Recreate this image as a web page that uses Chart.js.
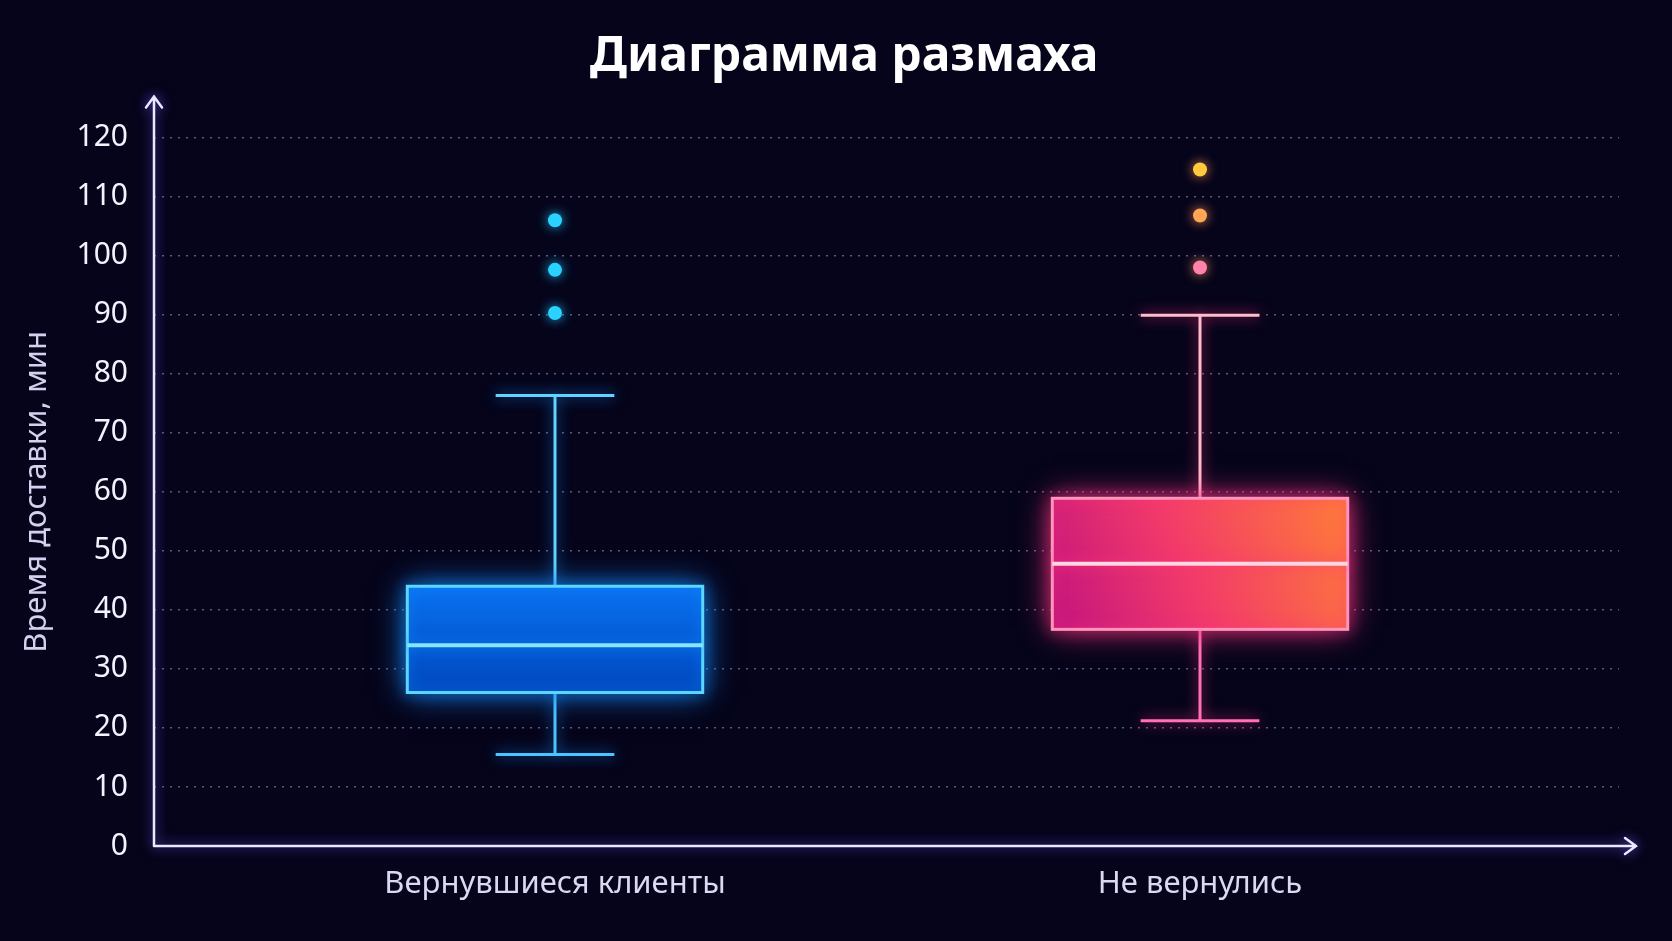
<!DOCTYPE html>
<html lang="ru">
<head>
<meta charset="utf-8">
<title>Диаграмма размаха</title>
<script src="https://cdn.jsdelivr.net/npm/chart.js@4.4.1/dist/chart.umd.min.js"></script>
<style>
  html, body { margin: 0; padding: 0; background: #05041a; }
  #wrap { width: 1672px; height: 941px; position: relative; }
</style>
</head>
<body>
<div id="wrap"><canvas id="boxChart"></canvas></div>
<script>
// data
const groups = ['Вернувшиеся клиенты', 'Не вернулись'];
const whiskerLow = [15.5, 21.2];
const quartile1 = [26.0, 36.7];
const medians = [34.0, 47.8];
const quartile3 = [44.0, 58.9];
const whiskerHigh = [76.3, 89.9];
const outliersReturned = [90.3, 97.6, 106.0];
const outliersLost = [98.0, 106.8, 114.6];
const yTicks = [0, 10, 20, 30, 40, 50, 60, 70, 80, 90, 100, 110, 120];

const BOX_HALF = 0.229;
const CAP_HALF = 0.092;

const boxStyles = [
    {
        glow: 'rgba(20, 140, 255, 0.9)',
        border: '#5ad6ff',
        median: '#86e6ff',
        whiskerTop: '#62d2ff',
        whiskerBottom: '#4cc4ff',
        fill(ctx, l, t, r, b) {
            const g = ctx.createLinearGradient(0, t, 0, b);
            g.addColorStop(0, '#0a72f0');
            g.addColorStop(1, '#0047bd');
            return g;
        }
    },
    {
        glow: 'rgba(255, 50, 130, 0.9)',
        border: '#ff94bc',
        median: '#ffd6e4',
        whiskerTop: '#ffbccb',
        whiskerBottom: '#ff72b8',
        fill(ctx, l, t, r, b) {
            const g = ctx.createLinearGradient(l, b, r, t);
            g.addColorStop(0, '#c2137e');
            g.addColorStop(0.45, '#f23a6a');
            g.addColorStop(1, '#ff7c38');
            return g;
        }
    }
];

const axesPlugin = {
    id: 'axesArrows',
    beforeDatasetsDraw(chart) {
        const { ctx, chartArea: a } = chart;
        ctx.save();
        ctx.strokeStyle = '#ece8ff';
        ctx.lineWidth = 2.5;
        ctx.lineCap = 'round';
        ctx.shadowColor = 'rgba(110, 90, 255, 0.9)';
        ctx.shadowBlur = 12;
        const topTip = a.top - 41;
        const rightTip = a.right + 17;
        ctx.beginPath();
        ctx.moveTo(a.left, a.bottom);
        ctx.lineTo(a.left, topTip);
        ctx.moveTo(a.left - 8, topTip + 11);
        ctx.lineTo(a.left, topTip);
        ctx.lineTo(a.left + 8, topTip + 11);
        ctx.moveTo(a.left, a.bottom);
        ctx.lineTo(rightTip, a.bottom);
        ctx.moveTo(rightTip - 11, a.bottom - 8);
        ctx.lineTo(rightTip, a.bottom);
        ctx.lineTo(rightTip - 11, a.bottom + 8);
        ctx.stroke();
        ctx.restore();
    }
};

const boxPlotPlugin = {
    id: 'boxPlot',
    beforeDatasetsDraw(chart) {
        const { ctx, scales: { x, y } } = chart;
        groups.forEach((name, i) => {
            const st = boxStyles[i];
            const cx = x.getPixelForValue(i);
            const left = x.getPixelForValue(i - BOX_HALF);
            const right = x.getPixelForValue(i + BOX_HALF);
            const capL = x.getPixelForValue(i - CAP_HALF);
            const capR = x.getPixelForValue(i + CAP_HALF);
            const yLo = y.getPixelForValue(whiskerLow[i]);
            const yQ1 = y.getPixelForValue(quartile1[i]);
            const yMed = y.getPixelForValue(medians[i]);
            const yQ3 = y.getPixelForValue(quartile3[i]);
            const yHi = y.getPixelForValue(whiskerHigh[i]);

            ctx.save();
            ctx.shadowColor = st.glow;
            ctx.shadowBlur = 14;
            ctx.lineWidth = 3;

            // whiskers
            ctx.strokeStyle = st.whiskerTop;
            ctx.beginPath();
            ctx.moveTo(cx, yQ3);
            ctx.lineTo(cx, yHi);
            ctx.moveTo(capL, yHi);
            ctx.lineTo(capR, yHi);
            ctx.stroke();
            ctx.strokeStyle = st.whiskerBottom;
            ctx.beginPath();
            ctx.moveTo(cx, yQ1);
            ctx.lineTo(cx, yLo);
            ctx.moveTo(capL, yLo);
            ctx.lineTo(capR, yLo);
            ctx.stroke();

            // box
            ctx.shadowBlur = 30;
            ctx.fillStyle = st.fill(ctx, left, yQ3, right, yQ1);
            ctx.fillRect(left, yQ3, right - left, yQ1 - yQ3);
            ctx.shadowBlur = 14;
            ctx.strokeStyle = st.border;
            ctx.strokeRect(left, yQ3, right - left, yQ1 - yQ3);

            // median
            ctx.lineWidth = 4;
            ctx.strokeStyle = st.median;
            ctx.beginPath();
            ctx.moveTo(left, yMed);
            ctx.lineTo(right, yMed);
            ctx.stroke();
            ctx.restore();
        });
    },
    beforeDatasetDraw(chart, args) {
        const ctx = chart.ctx;
        ctx.save();
        ctx.shadowColor = args.index === 0 ? 'rgba(30, 200, 255, 0.9)' : 'rgba(255, 140, 90, 0.9)';
        ctx.shadowBlur = 12;
    },
    afterDatasetDraw(chart) {
        chart.ctx.restore();
    }
};

const ctx = document.getElementById('boxChart').getContext('2d');

new Chart(ctx, {
    type: 'scatter',
    data: {
        datasets: [
            {
                label: groups[0],
                data: outliersReturned.map(v => ({ x: 0, y: v })),
                backgroundColor: '#2ad2ff',
                borderWidth: 0,
                pointRadius: 7
            },
            {
                label: groups[1],
                data: outliersLost.map(v => ({ x: 1, y: v })),
                backgroundColor: ['#ff82aa', '#ffa553', '#ffc93c'],
                borderWidth: 0,
                pointRadius: 7
            }
        ]
    },
    options: {
        responsive: true,
        maintainAspectRatio: false,
        animation: false,
        // left padding keeps the title centred where the original has it
        layout: { padding: { left: 69, right: 53, top: 0, bottom: 0 } },
        plugins: {
            legend: { display: false },
            tooltip: { enabled: false },
            title: {
                display: true,
                text: 'Диаграмма размаха',
                color: '#ffffff',
                font: { family: 'Noto Sans', size: 48, weight: 'bold' },
                padding: { top: 29, bottom: 51 }
            }
        },
        scales: {
            x: {
                type: 'linear',
                min: -0.6217,
                max: 1.6496,
                afterBuildTicks: s => { s.ticks = groups.map((g, i) => ({ value: i })); },
                afterFit: s => { s.height = 95; },
                grid: { display: false, drawTicks: false },
                border: { display: false },
                ticks: {
                    autoSkip: false,
                    maxRotation: 0,
                    padding: 20,
                    color: '#dcd8f4',
                    font: { family: 'Noto Sans', size: 31 },
                    callback: v => groups[v]
                }
            },
            y: {
                min: 0,
                max: 120,
                afterBuildTicks: s => { s.ticks = yTicks.map(v => ({ value: v })); },
                afterFit: s => { s.width = 85; },
                grid: {
                    color: 'rgba(150, 145, 215, 0.6)',
                    lineWidth: 1.5,
                    drawTicks: false
                },
                border: { display: false, dash: [2, 6] },
                ticks: {
                    padding: 26,
                    color: '#f4f2ff',
                    font: { family: 'Noto Sans', size: 30 }
                },
                title: {
                    display: true,
                    text: 'Время доставки, мин',
                    color: '#d4d0f0',
                    font: { family: 'Noto Sans', size: 31 },
                    padding: { top: -50, bottom: 0 }
                }
            }
        }
    },
    plugins: [axesPlugin, boxPlotPlugin]
});
</script>
</body>
</html>
